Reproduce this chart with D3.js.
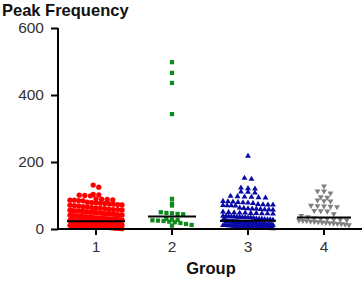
<!DOCTYPE html>
<html>
<head>
<meta charset="utf-8">
<script src="https://cdn.jsdelivr.net/npm/d3@7"></script>
<style>
  body { margin: 0; background: #fff; }
  svg { display: block; font-family: "Liberation Sans", Arial, sans-serif; }
</style>
</head>
<body>
<div id="chart"></div>
<script>
// column scatter, values
const groups = ["1", "2", "3", "4"];
const yTicks = [0, 200, 400, 600];

const group1 = [131,125,103,102,101,100,99,90,89,88,87,86,86,85,84,
  80,79,78,77,76,75,74,73,72,71,70,69,67,66,64,63,62,61,
  59,58,58,57,56,55,54,54,53,52,51,50,50,49,48,47,46,46,45,44,43,42,42,41,40,
  39,39,38,38,37,36,36,35,35,34,33,33,32,32,31,31,30,30,29,29,28,28,27,27,26,26,25,25,25,24,
  23,23,23,23,22,22,22,22,21,21,21,21,20,20,20,20,20,19,19,19,19,18,18,18,18,17,17,17,17,
  16,16,16,16,15,15,15,15,15,14,14,14,14,13,13,13,13,12,12,12,12,11,11,11,11,10,10,10,10,10,
  9,9,9,9,8,8,8,8,7,7,7,7,6,6,6,6,5,5,5,5,4,4,4,3,3,3,2,2,1];
const group2 = [498,466,436,343,90,76,70,50,48,47,45,44,30,28,27,26,25,24,22,20,18,15,12,10];
const group3 = [218,152,149,123,121,120,111,110,108,98,97,96,95,94,93,83,82,81,80,79,78,77,
  74,73,72,72,71,70,70,69,63,62,61,60,60,59,58,58,57,51,50,49,48,48,47,47,46,46,45,
  39,38,38,37,37,36,36,35,35,34,34,33,31,30,30,29,28,28,27,26,26,25,
  23,23,23,22,22,22,21,21,21,21,20,20,20,19,19,19,18,18,18,18,17,17,17,16,16,16,15,15,15,15,
  14,14,14,13,13,13,12,12,12,12,11,11,11,10,10,10,9,9,9,9,8,8,8,7,7,7,6,6,6,5,5,5,4,4,4,3,3,2,2,1];
const group4 = [128,113,113,107,96,94,86,84,83,70,69,68,67,66,55,54,53,45,40,36,
  32,31,30,29,28,27,26,25,24,23,22,21,20,19,18,17,16,15,14,12];

const series = [group1, group2, group3, group4];
const colors = ["#ff0000", "#0f8a1f", "#0a0aa6", "#808080"];
const symbols = [d3.symbolCircle, d3.symbolSquare, d3.symbolTriangle, d3.symbolTriangle];
const symSize = [22, 18, 15, 15];
const steps = [5.6, 5.6, 7, 6.5];
const spreads = [52, 40, 50, 50];
const lineHalf = [29, 24, 28, 27];

const width = 364, height = 281;
const svg = d3.select("#chart").append("svg")
  .attr("width", width).attr("height", height);

const x = d3.scaleBand().domain(groups).range([58, 362]);
const y = d3.scaleLinear().domain([0, 600]).range([229, 28]);

// title
svg.append("text").attr("x", 2).attr("y", 16)
  .attr("font-size", 16.5).attr("font-weight", "bold").attr("fill", "#111")
  .text("Peak Frequency");

// points, spread sideways when values crowd together
const binH = 5;
series.forEach((vals, gi) => {
  const cx = x(groups[gi]) + x.bandwidth() / 2;
  const bins = d3.group(vals, v => Math.floor(y(v) / binH));
  const pts = [];
  for (const [, b] of bins) {
    const n = b.length;
    const sp = n > 1 ? Math.min(steps[gi], spreads[gi] / (n - 1)) : 0;
    b.forEach((v, i) => pts.push({ v, px: cx + (i - (n - 1) / 2) * sp }));
  }
  const sym = d3.symbol().type(symbols[gi]).size(symSize[gi]);
  svg.append("g").selectAll("path").data(pts).join("path")
    .attr("d", sym)
    .attr("transform", d => `translate(${d.px},${y(d.v)})` + (gi === 3 ? " rotate(180)" : ""))
    .attr("fill", colors[gi]);

  const med = d3.median(vals);
  svg.append("line")
    .attr("x1", cx - lineHalf[gi]).attr("x2", cx + lineHalf[gi])
    .attr("y1", y(med)).attr("y2", y(med))
    .attr("stroke", "#000").attr("stroke-width", 2);
});

// axes
const yAxis = svg.append("g").attr("transform", "translate(58,0)")
  .call(d3.axisLeft(y).tickValues(yTicks).tickSize(7).tickPadding(7));
const xAxis = svg.append("g").attr("transform", "translate(0,229)")
  .call(d3.axisBottom(x).tickSize(6).tickPadding(6));
[yAxis, xAxis].forEach(a => {
  a.select(".domain").attr("stroke", "#000").attr("stroke-width", 2);
  a.selectAll(".tick line").attr("stroke", "#000").attr("stroke-width", 2);
  a.selectAll(".tick text").attr("font-size", 15.5).attr("fill", "#333")
    .attr("font-family", "Liberation Sans, Arial, sans-serif");
});
yAxis.select(".domain").attr("d", "M0,28V229");
xAxis.select(".domain").attr("d", "M58,0H362");

svg.append("text").attr("x", 211).attr("y", 274)
  .attr("text-anchor", "middle").attr("font-size", 16.5).attr("font-weight", "bold")
  .attr("fill", "#111").text("Group");
</script>
</body>
</html>
